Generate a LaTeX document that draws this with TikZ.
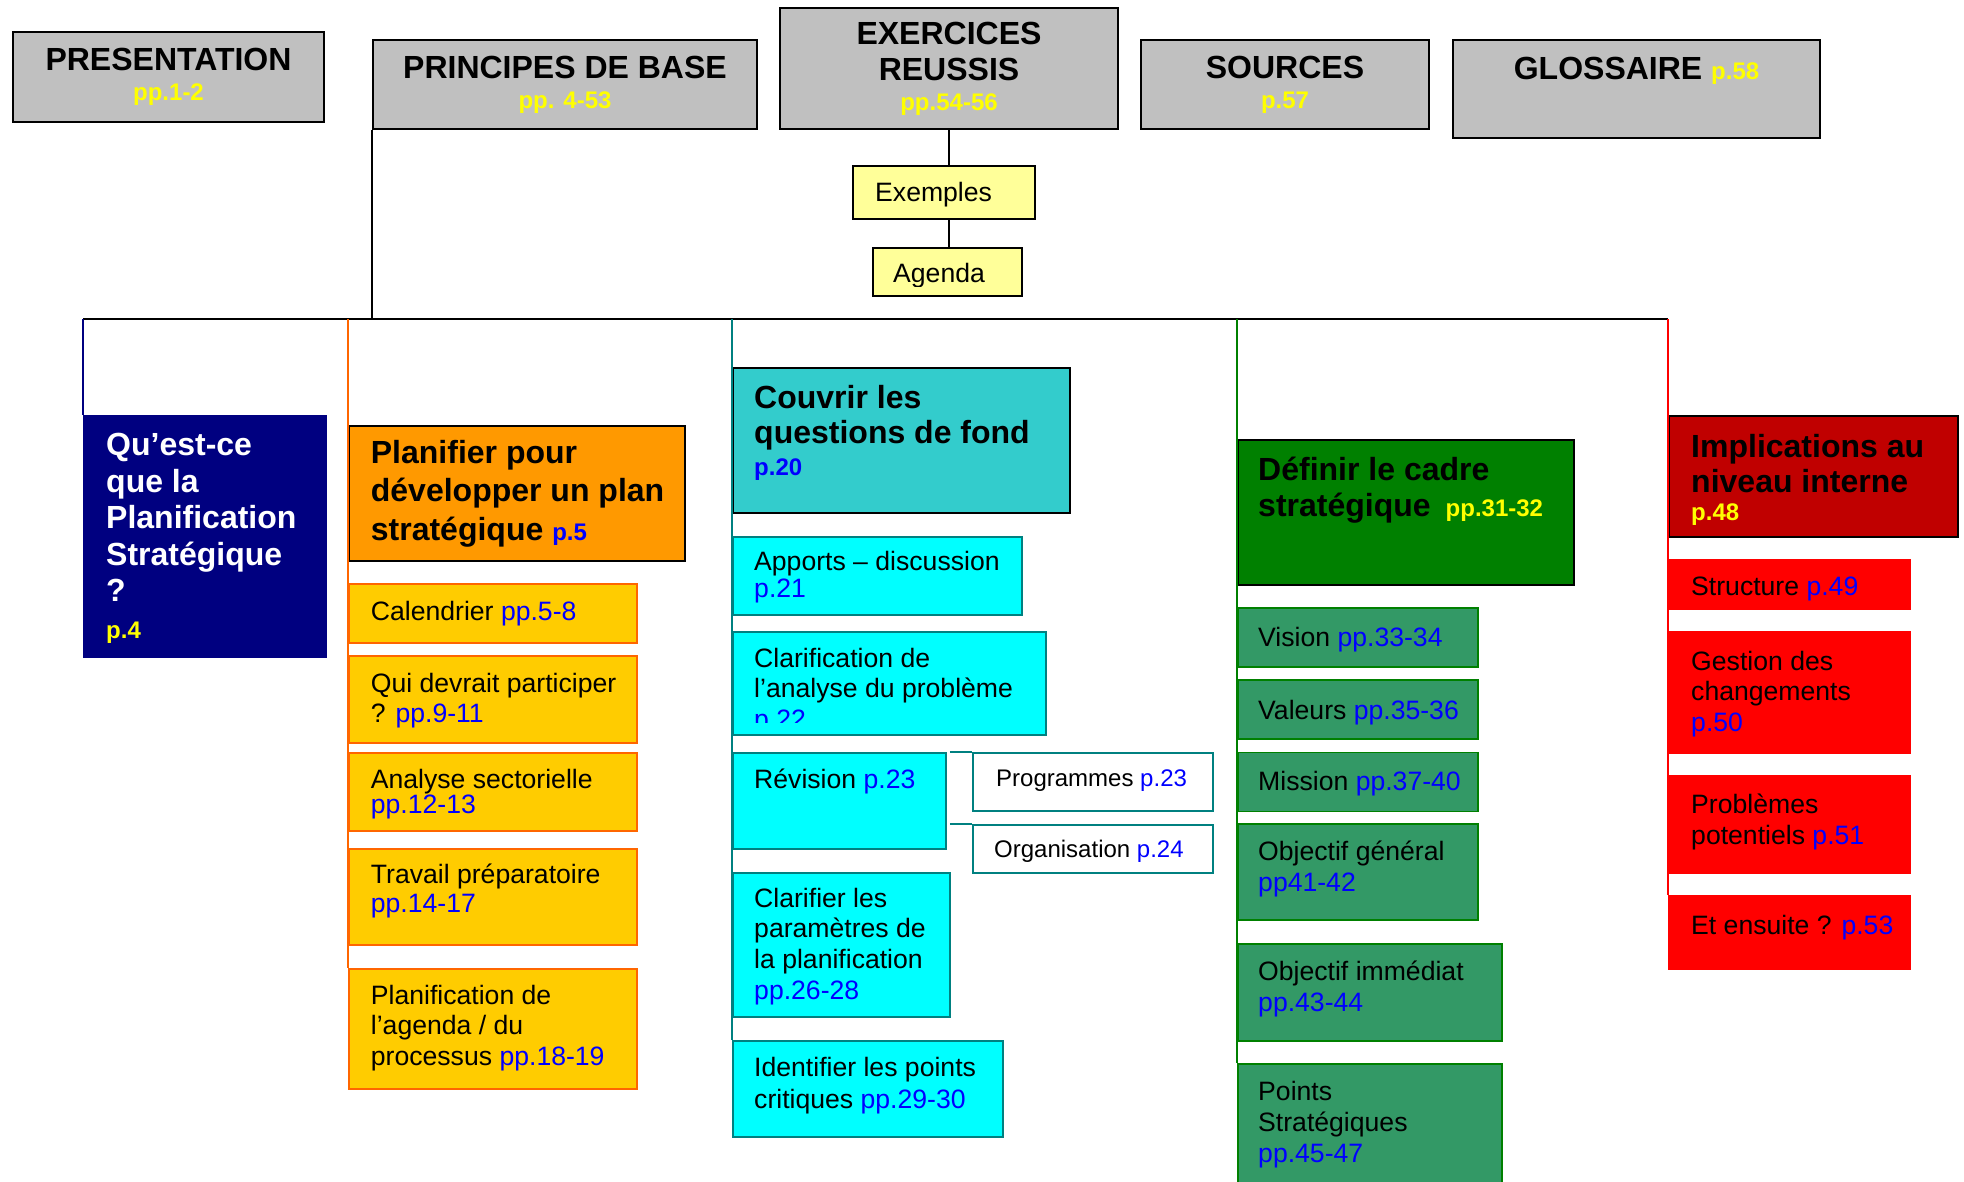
\documentclass[tikz,border=0pt]{standalone}
\usepackage{fontspec}
\setmainfont{Liberation Sans}
\definecolor{boxgray}{HTML}{C0C0C0}
\definecolor{pageyel}{HTML}{FFFF00}
\definecolor{pageblue}{HTML}{0000FF}
\definecolor{paleyellow}{HTML}{FFFF99}
\definecolor{navy}{HTML}{000080}
\definecolor{orangehead}{HTML}{FF9900}
\definecolor{orangesub}{HTML}{FFCC00}
\definecolor{orangeline}{HTML}{FF6600}
\definecolor{tealhead}{HTML}{33CCCC}
\definecolor{cyansub}{HTML}{00FFFF}
\definecolor{tealline}{HTML}{008080}
\definecolor{greenhead}{HTML}{008000}
\definecolor{greensub}{HTML}{339966}
\definecolor{redhead}{HTML}{C00000}
\definecolor{redsub}{HTML}{FF0000}
\newcommand{\pgyel}[1]{{\color{pageyel}\bfseries\fontsize{24}{28}\selectfont #1}}
\newcommand{\pgblue}[1]{{\color{pageblue}\bfseries\fontsize{24}{28}\selectfont #1}}
\newcommand{\pgnum}[1]{{\color{pageblue}#1}}

\begin{document}
\begin{tikzpicture}[
  x=1pt,y=-1pt,
  font=\fontsize{26.6}{30.8}\selectfont,
  topbox/.style={draw=black,fill=boxgray,line width=2pt,anchor=north west,
    inner sep=0pt,align=center,font=\bfseries\fontsize{32}{36}\selectfont},
  headbox/.style={draw=black,line width=2pt,anchor=north west,inner sep=0pt},
  subbox/.style={line width=1.8pt,anchor=north west,inner sep=0pt},
  osub/.style={subbox,fill=orangesub,draw=orangeline,minimum width=288},
  csub/.style={subbox,fill=cyansub,draw=tealline},
  gsub/.style={subbox,fill=greensub,draw=greenhead,minimum width=240},
  rsub/.style={subbox,fill=redsub,draw=redsub,minimum width=241},
  headtext/.style={anchor=north west,align=left,inner sep=0pt,
    font=\bfseries\fontsize{32}{36}\selectfont},
  subtext/.style={anchor=north west,align=left,inner sep=0pt},
  trunk/.style={draw=black,line width=1.8pt},
  branch/.style={line width=1.5pt}
]
\useasboundingbox (0,0) rectangle (1964,1181);

% top row
\node[topbox,minimum width=311,minimum height=90] (present) at (12,31)
  {PRESENTATION\\[-6pt]\pgyel{pp.1-2}};
\node[topbox,minimum width=384,minimum height=89] (principes) at (372,39)
  {PRINCIPES DE BASE\\[-6pt]\pgyel{pp. 4-53}};
\node[topbox,minimum width=338,minimum height=121] (exercices) at (779,7)
  {EXERCICES\\REUSSIS\\[-6pt]\pgyel{pp.54-56}};
\node[topbox,minimum width=288,minimum height=89] (sources) at (1140,39)
  {SOURCES\\[-6pt]\pgyel{p.57}};
\node[topbox,minimum width=367,minimum height=98] (glossaire) at (1452,39)
  {GLOSSAIRE \pgyel{p.58}\\[-6pt]\strut};

\node[subbox,draw=black,fill=paleyellow,minimum width=182,minimum height=53]
  (exemples) at (852,165) {};
\node[subtext] (exemplesT) at ([shift={(23,17.5)}]exemples.north west) {Exemples};
\node[subbox,draw=black,fill=paleyellow,minimum width=149,minimum height=48]
  (agenda) at (872,247) {};
\begin{scope}
  \clip (agenda.north west) rectangle ([yshift=10.7pt]agenda.south east);
  \node[subtext] (agendaT) at ([shift={(21,15.8)}]agenda.north west) {Agenda};
\end{scope}

% column 1
\node[headbox,fill=navy,draw=navy,minimum width=242,minimum height=241]
  (quoi) at (83,415) {};
\node[headtext,text=white,font=\bfseries\fontsize{32}{36.5}\selectfont]
  (quoiT) at ([shift={(23,18)}]quoi.north west)
  {Qu’est-ce\\que la\\Planification\\Stratégique\\?\\\pgyel{p.4}};

% column 2
\node[headbox,fill=orangehead,minimum width=336,minimum height=135]
  (planif) at (348,425) {};
\node[headtext,font=\bfseries\fontsize{32}{38.5}\selectfont]
  (planifT) at ([shift={(22.7,14.8)}]planif.north west)
  {Planifier pour\\développer un plan\\stratégique \pgblue{p.5}};
\node[osub,minimum height=59] (calend) at (348,583) {};
\node[subtext] (calendT) at ([shift={(22.7,17.6)}]calend.north west)
  {Calendrier \pgnum{pp.5-8}};
\node[osub,minimum height=87] (qui) at (348,655) {};
\node[subtext] (quiT) at ([shift={(22.7,17.6)}]qui.north west)
  {Qui devrait participer\\? \pgnum{pp.9-11}};
\node[osub,minimum height=78] (analyse) at (348,752) {};
\node[subtext] (analyseT) at ([shift={(22.7,16.6)}]analyse.north west)
  {Analyse sectorielle\\[-5.5pt]\pgnum{pp.12-13}};
\node[osub,minimum height=96] (travail) at (348,848) {};
\node[subtext] (travailT) at ([shift={(22.7,15.6)}]travail.north west)
  {Travail préparatoire\\[-2pt]\pgnum{pp.14-17}};
\node[osub,minimum height=120] (agendaproc) at (348,968) {};
\node[subtext] (agendaprocT) at ([shift={(22.7,16.6)}]agendaproc.north west)
  {Planification de\\l’agenda / du\\processus \pgnum{pp.18-19}};

% column 3
\node[headbox,fill=tealhead,minimum width=337,minimum height=145]
  (couvrir) at (732,367) {};
\node[headtext,font=\bfseries\fontsize{32}{35}\selectfont]
  (couvrirT) at ([shift={(22,17.8)}]couvrir.north west)
  {Couvrir les\\questions de fond\\[-3pt]\pgblue{p.20}};
\node[csub,minimum width=289,minimum height=78] (apports) at (732,536) {};
\node[subtext] (apportsT) at ([shift={(22,15)}]apports.north west)
  {Apports – discussion\\[-4pt]\pgnum{p.21}};
\node[csub,minimum width=313,minimum height=103] (clarif) at (732,631) {};
\begin{scope}
  \clip (clarif.north west) rectangle ([yshift=13pt]clarif.south east);
  \node[subtext] (clarifT) at ([shift={(22,16.6)}]clarif.north west)
    {Clarification de\\l’analyse du problème\\\pgnum{p.22}};
\end{scope}
\node[csub,minimum width=213,minimum height=96] (revision) at (732,752) {};
\node[subtext] (revisionT) at ([shift={(22,16.6)}]revision.north west)
  {Révision \pgnum{p.23}};
\node[subbox,fill=white,draw=tealline,minimum width=240,minimum height=58]
  (progr) at (972,752) {};
\node[subtext,font=\fontsize{24}{28}\selectfont] (progrT)
  at ([shift={(24,17.2)}]progr.north west) {Programmes \pgnum{p.23}};
\node[subbox,fill=white,draw=tealline,minimum width=240,minimum height=48]
  (orga) at (972,824) {};
\node[subtext,font=\fontsize{24}{28}\selectfont] (orgaT)
  at ([shift={(22,15.5)}]orga.north west) {Organisation \pgnum{p.24}};
\node[csub,minimum width=217,minimum height=144] (param) at (732,872) {};
\node[subtext] (paramT) at ([shift={(22,15.6)}]param.north west)
  {Clarifier les\\paramètres de\\la planification\\\pgnum{pp.26-28}};
\node[csub,minimum width=270,minimum height=96] (identifier) at (732,1040) {};
\node[subtext,font=\fontsize{26.6}{32}\selectfont] (identifierT)
  at ([shift={(22,16.6)}]identifier.north west)
  {Identifier les points\\critiques \pgnum{pp.29-30}};

% column 4
\node[headbox,fill=greenhead,minimum width=336,minimum height=145]
  (definir) at (1237,439) {};
\node[headtext] (definirT) at ([shift={(21,17.8)}]definir.north west)
  {Définir le cadre\\stratégique\hspace{15pt}\pgyel{pp.31-32}};
\node[gsub,minimum height=59] (vision) at (1237,607) {};
\node[subtext] (visionT) at ([shift={(21,20)}]vision.north west)
  {Vision \pgnum{pp.33-34}};
\node[gsub,minimum height=59] (valeurs) at (1237,679) {};
\node[subtext] (valeursT) at ([shift={(21,20.6)}]valeurs.north west)
  {Valeurs \pgnum{pp.35-36}};
\node[gsub,minimum height=59] (mission) at (1237,751.6) {};
\node[subtext] (missionT) at ([shift={(21,19.4)}]mission.north west)
  {Mission \pgnum{pp.37-40}};
\node[gsub,minimum height=96] (general) at (1237,823) {};
\node[subtext] (generalT) at ([shift={(21,17.6)}]general.north west)
  {Objectif général\\\pgnum{pp41-42}};
\node[gsub,minimum width=264,minimum height=97] (immediat) at (1237,943) {};
\node[subtext] (immediatT) at ([shift={(21,17.6)}]immediat.north west)
  {Objectif immédiat\\\pgnum{pp.43-44}};
\node[gsub,minimum width=264,minimum height=135] (points) at (1237,1063) {};
\node[subtext] (pointsT) at ([shift={(21,18)}]points.north west)
  {Points\\Stratégiques\\\pgnum{pp.45-47}};

% column 5
\node[headbox,fill=redhead,minimum width=289,minimum height=121]
  (impl) at (1668,415) {};
\node[headtext,font=\bfseries\fontsize{32}{35}\selectfont]
  (implT) at ([shift={(23,18.8)}]impl.north west)
  {Implications au\\niveau interne\\[-7pt]\pgyel{p.48}};
\node[rsub,minimum height=49] (structure) at (1668,559) {};
\node[subtext] (structureT) at ([shift={(23,18)}]structure.north west)
  {Structure \pgnum{p.49}};
\node[rsub,minimum height=121] (gestion) at (1668,631) {};
\node[subtext] (gestionT) at ([shift={(23,19.6)}]gestion.north west)
  {Gestion des\\changements\\\pgnum{p.50}};
\node[rsub,minimum height=97] (problemes) at (1668,775) {};
\node[subtext] (problemesT) at ([shift={(23,18.6)}]problemes.north west)
  {Problèmes\\potentiels \pgnum{p.51}};
\node[rsub,minimum height=73] (ensuite) at (1668,895) {};
\node[subtext] (ensuiteT) at ([shift={(23,20)}]ensuite.north west)
  {Et ensuite ? \pgnum{p.53}};

% connectors
\coordinate (bar) at (0,319);
\draw[trunk] (quoi.north west |- bar) -- (impl.north west |- bar);
\draw[trunk] (principes.south west) -- (principes.south west |- bar);
\draw[trunk] (exercices.south) -- (exercices.south |- exemples.north);
\draw[trunk] (exercices.south |- exemples.south) -- (exercices.south |- agenda.north);
\draw[branch,draw=navy] (quoi.north west |- bar) -- (quoi.north west);
\draw[branch,draw=orangeline] (planif.north west |- bar) -- (agendaproc.north west);
\draw[branch,draw=tealline] (couvrir.north west |- bar) -- (identifier.north west);
\draw[branch,draw=greenhead] (definir.north west |- bar) -- (points.north west);
\draw[branch,draw=redsub] (impl.north west |- bar) -- (ensuite.north west);
\coordinate (revlink) at ([xshift=3pt]revision.north east);
\draw[branch,draw=tealline] (revlink |- progr.north) -- (progr.north west);
\draw[branch,draw=tealline] (revlink |- orga.north) -- (orga.north west);
\end{tikzpicture}
\end{document}
